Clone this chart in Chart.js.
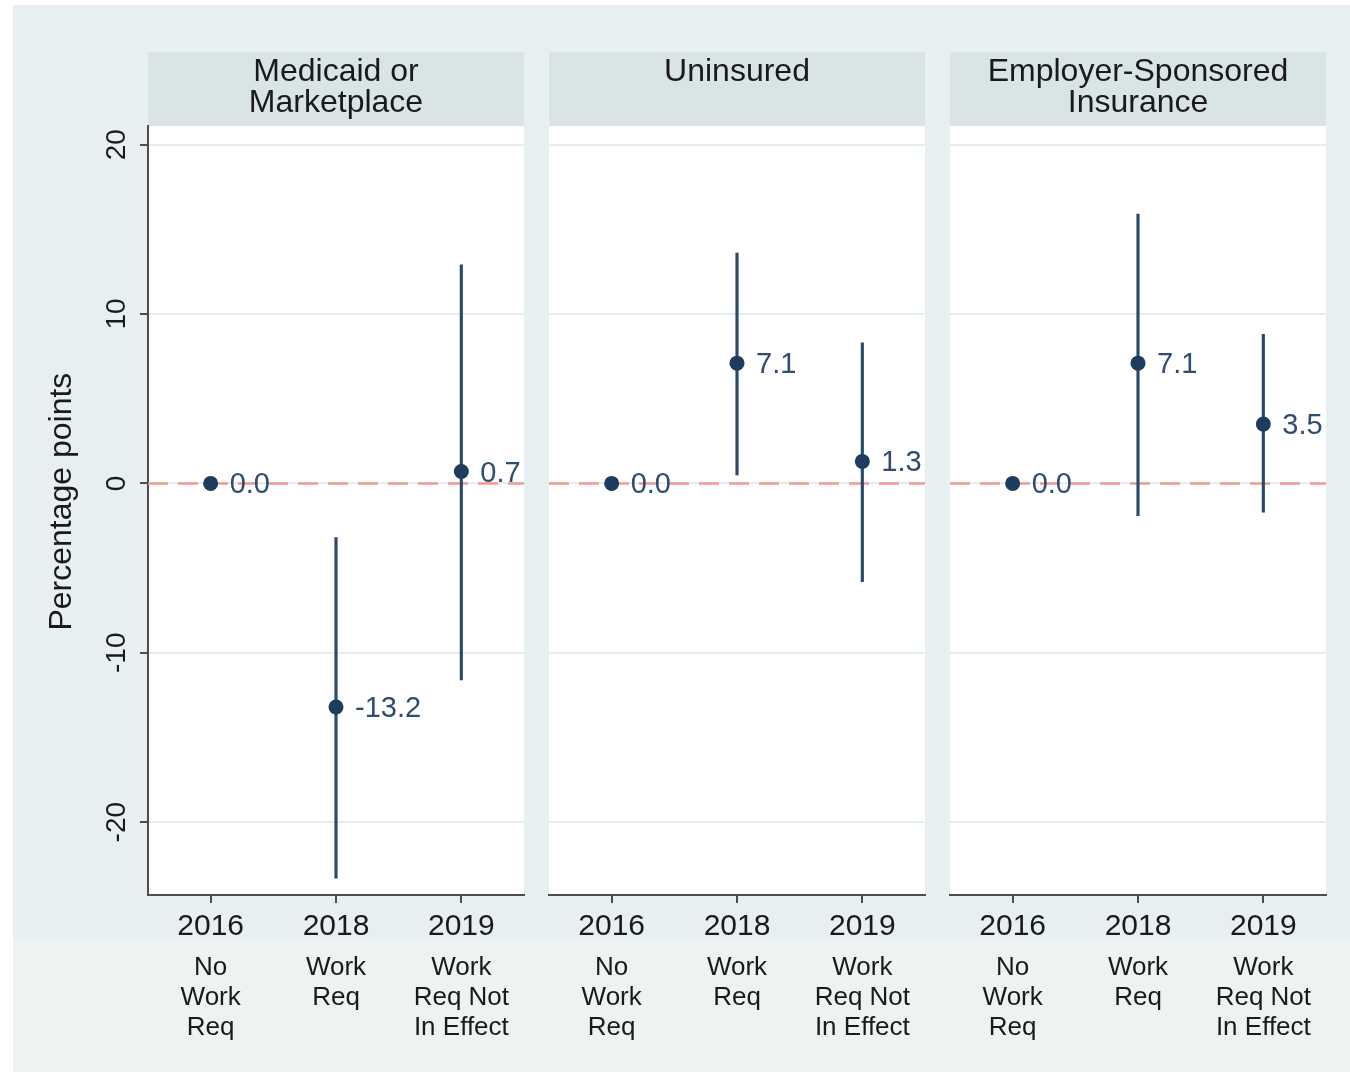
<!DOCTYPE html>
<html>
<head>
<meta charset="utf-8">
<script src="https://cdn.jsdelivr.net/npm/chart.js@4.4.1/dist/chart.umd.min.js"></script>
<style>
  html, body { margin: 0; padding: 0; background: #ffffff; }
  #frame { position: absolute; left: 13px; top: 5px; width: 1337px; height: 1067px; background: #e8eff1; }
  #band { position: absolute; left: 13px; top: 940px; width: 1337px; height: 132px; background: #edf3f3; }
  canvas { position: absolute; }
</style>
</head>
<body>
<div id="frame"></div>
<div id="band"></div>
<canvas id="p1"></canvas>
<canvas id="p2"></canvas>
<canvas id="p3"></canvas>
<script>
// Category positions on the x axis and their labels
const positions = [1, 2, 3];
const yearLabels = ['2016', '2018', '2019'];
const groupLabels = [['No', 'Work', 'Req'], ['Work', 'Req'], ['Work', 'Req Not', 'In Effect']];
const yTicks = [-20, -10, 0, 10, 20];

// Panel titles
const medicaidTitle = ['Medicaid or', 'Marketplace'];
const uninsuredTitle = ['Uninsured'];
const esiTitle = ['Employer-Sponsored', 'Insurance'];

// Point estimates (percentage points)
const medicaidEst = [0.0, -13.2, 0.7];
const uninsuredEst = [0.0, 7.1, 1.3];
const esiEst = [0.0, 7.1, 3.5];

// 95% confidence intervals (null = reference year, no interval)
const medicaidLow = [null, -23.3, -11.6];
const medicaidHigh = [null, -3.2, 12.9];
const uninsuredLow = [null, 0.5, -5.8];
const uninsuredHigh = [null, 13.6, 8.3];
const esiLow = [null, -1.9, -1.7];
const esiHigh = [null, 15.9, 8.8];

const FONT = "'Liberation Sans', Arial, Helvetica, sans-serif";
const AXIS = '#4d4d4d';
const NAVY = '#1d3c5e';
const HEADER_H = 74;

// Header band, white plot region and value labels
const panelPlugin = {
  id: 'panelDecor',
  beforeDraw(chart) {
    const { ctx, chartArea: a } = chart;
    const lines = chart.options.plugins.panelDecor.title;
    ctx.save();
    ctx.fillStyle = '#ffffff';
    ctx.fillRect(a.left, a.top, a.right - a.left, a.bottom - a.top);
    ctx.fillStyle = '#d9e4e6';
    ctx.fillRect(a.left, a.top - HEADER_H, a.right - a.left, HEADER_H);
    ctx.fillStyle = '#1a1a1a';
    ctx.font = '32px ' + FONT;
    ctx.textAlign = 'center';
    ctx.textBaseline = 'middle';
    const cx = (a.left + a.right) / 2;
    lines.forEach((t, i) => ctx.fillText(t, cx, a.top - HEADER_H + 20 + i * 31));
    ctx.restore();
  },
  afterDatasetsDraw(chart) {
    const { ctx } = chart;
    const idx = chart.data.datasets.findIndex(d => d.label === 'Estimate');
    const meta = chart.getDatasetMeta(idx);
    const ds = chart.data.datasets[idx];
    ctx.save();
    ctx.fillStyle = '#2f4d70';
    ctx.font = '29px ' + FONT;
    ctx.textAlign = 'left';
    ctx.textBaseline = 'middle';
    meta.data.forEach((pt, i) => {
      ctx.fillText(ds.data[i].y.toFixed(1), pt.x + 19, pt.y + 2);
    });
    ctx.restore();
  }
};

function buildPanel(id, left, width, padLeft, padRight, title, est, lo, hi, showY) {
  const canvas = document.getElementById(id);
  canvas.width = width;
  canvas.height = 1020;
  canvas.style.left = left + 'px';
  canvas.style.top = '52px';

  const bars = [];
  positions.forEach((x, i) => { if (lo[i] !== null) bars.push({ x: x, y: [lo[i], hi[i]] }); });

  new Chart(canvas, {
    type: 'scatter',
    data: {
      datasets: [
        {
          label: 'Estimate',
          type: 'scatter',
          data: positions.map((x, i) => ({ x: x, y: est[i] })),
          pointRadius: 7.5,
          pointBackgroundColor: NAVY,
          pointBorderWidth: 0,
          order: 1
        },
        {
          label: '95% CI',
          type: 'bar',
          data: bars,
          barThickness: 2.5,
          backgroundColor: '#2a4a6c',
          borderWidth: 0,
          order: 2
        },
        {
          label: 'Zero',
          type: 'line',
          data: [{ x: 0.5, y: 0 }, { x: 3.5, y: 0 }],
          borderColor: '#f19a94',
          borderWidth: 2.5,
          borderDash: [20, 10],
          pointRadius: 0,
          order: 3
        }
      ]
    },
    options: {
      responsive: false,
      animation: false,
      devicePixelRatio: 1,
      layout: { padding: { top: HEADER_H, left: padLeft, right: padRight, bottom: 0 } },
      plugins: {
        legend: { display: false },
        tooltip: { enabled: false },
        panelDecor: { title: title }
      },
      scales: {
        x: {
          type: 'linear',
          position: 'bottom',
          weight: 0,
          min: 0.5,
          max: 3.5,
          offset: false,
          afterBuildTicks: s => { s.ticks = positions.map(v => ({ value: v })); },
          afterFit: s => { s.height = 50; },
          ticks: {
            callback: (v) => yearLabels[positions.indexOf(v)],
            font: { family: FONT, size: 30 },
            color: '#1a1a1a',
            padding: 6,
            maxRotation: 0,
            minRotation: 0,
            autoSkip: false
          },
          grid: { display: true, offset: false, drawOnChartArea: false, drawTicks: true, tickLength: 8, tickColor: AXIS, lineWidth: 2 },
          border: { display: true, color: AXIS, width: 2 }
        },
        x2: {
          type: 'linear',
          position: 'bottom',
          weight: 1,
          min: 0.5,
          max: 3.5,
          offset: false,
          afterBuildTicks: s => { s.ticks = positions.map(v => ({ value: v })); },
          afterFit: s => { s.height = 127; },
          ticks: {
            callback: (v) => groupLabels[positions.indexOf(v)],
            font: { family: FONT, size: 26, lineHeight: 1.15 },
            color: '#1a1a1a',
            padding: 8,
            maxRotation: 0,
            minRotation: 0,
            autoSkip: false
          },
          grid: { display: false, offset: false, drawTicks: false, tickLength: 0 },
          border: { display: false }
        },
        y: {
          type: 'linear',
          position: 'left',
          min: -24.3,
          max: 21.1,
          afterBuildTicks: s => { s.ticks = yTicks.map(v => ({ value: v })); },
          afterFit: s => { s.width = showY ? 133 : 0; },
          ticks: {
            display: showY,
            font: { family: FONT, size: 28 },
            color: '#1a1a1a',
            minRotation: 90,
            maxRotation: 90,
            crossAlign: 'center',
            padding: 2
          },
          title: {
            display: showY,
            text: '\u00a0\u00a0Percentage points',
            font: { family: FONT, size: 32 },
            color: '#1a1a1a',
            padding: { top: 28, bottom: 0 }
          },
          grid: {
            color: '#e6edef',
            lineWidth: 2,
            drawTicks: showY,
            tickLength: 8,
            tickColor: AXIS
          },
          border: { display: showY, color: AXIS, width: 2 }
        }
      }
    },
    plugins: [panelPlugin]
  });
}

buildPanel('p1', 15, 519, 0, 10, medicaidTitle, medicaidEst, medicaidLow, medicaidHigh, true);
buildPanel('p2', 539, 396, 10, 10, uninsuredTitle, uninsuredEst, uninsuredLow, uninsuredHigh, false);
buildPanel('p3', 940, 396, 10, 10, esiTitle, esiEst, esiLow, esiHigh, false);
</script>
</body>
</html>
